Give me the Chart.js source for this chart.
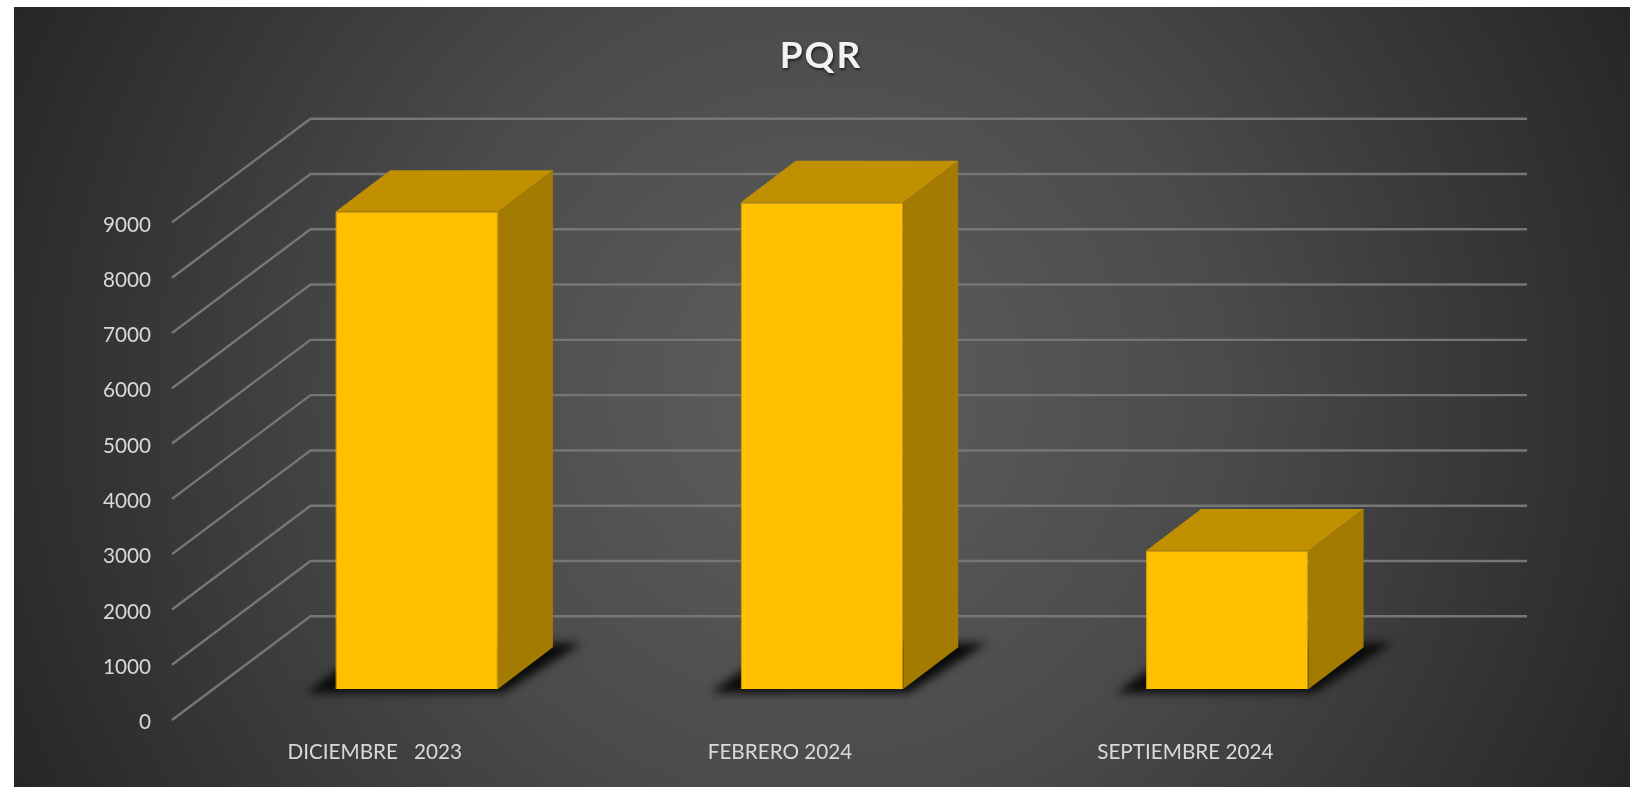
<!DOCTYPE html>
<html lang="es">
<head>
<meta charset="utf-8">
<title>PQR</title>
<script src="https://cdn.jsdelivr.net/npm/chart.js@4/dist/chart.umd.min.js"></script>
<style>
html,body{margin:0;padding:0;background:#fff;overflow:hidden}
#wrap{position:absolute;left:0;top:0;width:1634px;height:789px}
canvas{display:block}
</style>
</head>
<body>
<div id="wrap"><canvas id="c" width="1634" height="789"></canvas></div>
<script>
const categories = ['DICIEMBRE   2023', 'FEBRERO 2024', 'SEPTIEMBRE 2024'];
const pqrValues = [8630, 8800, 2500];
const yMax = 9000;
const yStep = 1000;
const chartTitle = 'PQR';

const FONT = 'Lato, "Open Sans", sans-serif';
const DEPTH_X = 55, DEPTH_Y = 41.7;        // bar depth
const FRONT_DX = -42, FRONT_DY = 31;       // wall line start relative to bar plane
const BACK_DX = 96.5, BACK_DY = -72.7;     // wall corner relative to bar plane
const WALL_RIGHT = 1527;

const backgroundPlugin = {
  id: 'panelBackground',
  beforeDraw(chart) {
    const ctx = chart.ctx;
    const g = ctx.createRadialGradient(820, 395, 0, 820, 395, 900);
    g.addColorStop(0, '#5e5e5e');
    g.addColorStop(0.45, '#4b4b4b');
    g.addColorStop(1, '#262626');
    ctx.save();
    ctx.fillStyle = '#ffffff';
    ctx.fillRect(0, 0, chart.width, chart.height);
    ctx.fillStyle = g;
    ctx.fillRect(14, 7, 1616, 780);
    ctx.restore();
    const t = chart.titleBlock;
    if (t && !t.__wrapped) {
      const orig = t.draw;
      t.draw = function () {
        ctx.save();
        ctx.translate(106, 1);
        ctx.letterSpacing = '2px';
        ctx.shadowColor = 'rgba(0,0,0,0.6)';
        ctx.shadowBlur = 3;
        ctx.shadowOffsetX = 1;
        ctx.shadowOffsetY = 2;
        orig.call(t);
        ctx.restore();
      };
      t.__wrapped = true;
    }
  }
};

const wallsAndDepthPlugin = {
  id: 'wallsAndDepth',
  beforeDatasetsDraw(chart) {
    const ctx = chart.ctx, y = chart.scales.y;
    ctx.save();
    // wall gridlines
    ctx.strokeStyle = '#767676';
    ctx.lineWidth = 2.4;
    ctx.lineJoin = 'round';
    const left = chart.chartArea.left;
    y.ticks.forEach(t => {
      const py = y.getPixelForValue(t.value);
      ctx.beginPath();
      ctx.moveTo(left + FRONT_DX, py + FRONT_DY);
      ctx.lineTo(left + BACK_DX, py + BACK_DY);
      ctx.lineTo(WALL_RIGHT, py + BACK_DY);
      ctx.stroke();
    });
    const bars = chart.getDatasetMeta(0).data;
    // floor shadows
    bars.forEach(b => {
      const L = b.x - b.width / 2, R = b.x + b.width / 2, B = b.base;
      ctx.save();
      ctx.filter = 'blur(5px)';
      ctx.fillStyle = '#0a0a0a';
      ctx.beginPath();
      ctx.moveTo(L - 30, B + 4);
      ctx.lineTo(R + 5, B + 4);
      ctx.lineTo(R + 84, B - 46);
      ctx.lineTo(L + 40, B - 46);
      ctx.closePath();
      ctx.fill();
      ctx.restore();
    });
    // bar side and top faces
    bars.forEach(b => {
      const L = b.x - b.width / 2, R = b.x + b.width / 2, T = b.y, B = b.base;
      ctx.fillStyle = '#a37b00';
      ctx.beginPath();
      ctx.moveTo(R, T);
      ctx.lineTo(R + DEPTH_X, T - DEPTH_Y);
      ctx.lineTo(R + DEPTH_X, B - DEPTH_Y);
      ctx.lineTo(R, B);
      ctx.closePath();
      ctx.fill();
      ctx.fillStyle = '#c09000';
      ctx.beginPath();
      ctx.moveTo(L, T);
      ctx.lineTo(L + DEPTH_X, T - DEPTH_Y);
      ctx.lineTo(R + DEPTH_X, T - DEPTH_Y);
      ctx.lineTo(R, T);
      ctx.closePath();
      ctx.fill();
    });
    ctx.restore();
  }
};

new Chart(document.getElementById('c'), {
  type: 'bar',
  data: {
    labels: categories,
    datasets: [{
      label: chartTitle,
      data: pqrValues,
      backgroundColor: '#ffc000',
      borderColor: '#e3ab00',
      borderWidth: 1,
      barPercentage: 0.401,
      categoryPercentage: 1
    }]
  },
  options: {
    responsive: false,
    animation: false,
    devicePixelRatio: 1,
    layout: { padding: { left: 0, right: 204, top: 0, bottom: 0 } },
    plugins: {
      legend: { display: false },
      tooltip: { enabled: false },
      title: {
        display: true,
        text: chartTitle,
        color: '#f2f2f2',
        font: { family: FONT, size: 37, weight: 'bold' },
        padding: { top: 33, bottom: 114 }
      }
    },
    scales: {
      x: {
        type: 'category',
        grid: { display: false, drawTicks: false },
        border: { display: false },
        afterFit(s) { s.height = 100; },
        ticks: {
          color: '#d9d9d9',
          font: { family: FONT, size: 20.7 },
          padding: 51,
          labelOffset: -42,
          maxRotation: 0,
          autoSkip: false
        }
      },
      y: {
        min: 0,
        max: yMax,
        grid: { display: false, drawTicks: false },
        border: { display: false },
        afterFit(s) { s.width = 214; },
        ticks: {
          stepSize: yStep,
          color: '#d9d9d9',
          font: { family: FONT, size: 20.7 },
          padding: 63,
          labelOffset: 33.5,
          callback: v => String(v)
        }
      }
    }
  },
  plugins: [backgroundPlugin, wallsAndDepthPlugin]
});
</script>
</body>
</html>
